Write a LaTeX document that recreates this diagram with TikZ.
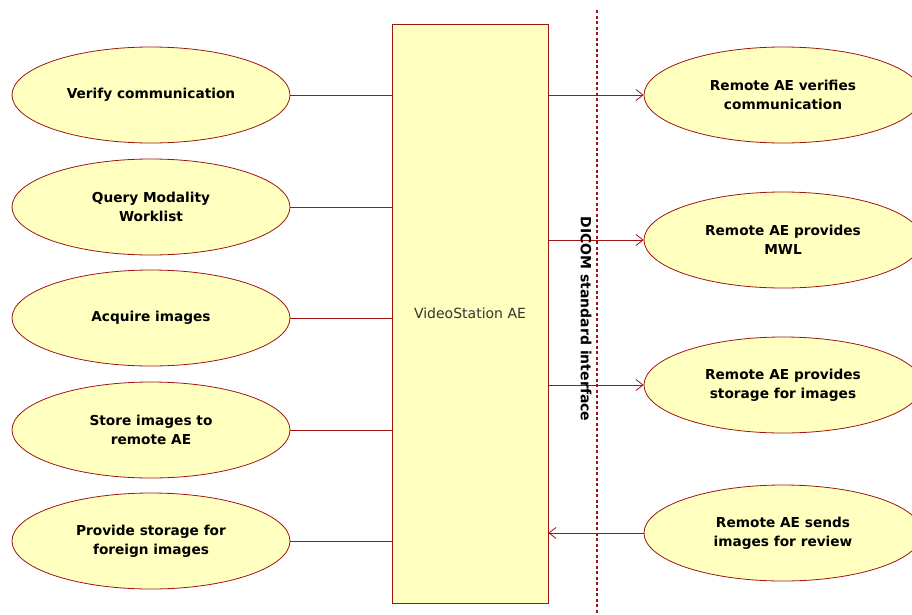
\documentclass[tikz,border=0pt]{standalone}
\usepackage{fontspec}
\setmainfont{DejaVu Sans}
\usetikzlibrary{shapes.geometric,arrows.meta}
\definecolor{caseyellow}{RGB}{255,255,192}
\definecolor{casered}{RGB}{160,20,20}
\begin{document}
\begin{tikzpicture}[x=1pt,y=-1pt,
    usecase/.style={ellipse,draw=casered,fill=caseyellow,line width=0.8pt,
      minimum width=278pt,minimum height=96pt,inner sep=0pt,align=center,
      font=\bfseries\fontsize{13.7}{19}\selectfont},
    link/.style={draw=casered,line width=0.8pt},
    tip/.style={-{Straight Barb[length=7pt,width=11pt]}}]
  \useasboundingbox (0,0) rectangle (912,614);
  \clip (0,0) rectangle (912,614);
  \node[draw=casered,fill=caseyellow,line width=0.8pt,minimum width=156pt,
    minimum height=579pt,inner sep=0pt,font=\fontsize{14}{16}\selectfont,
    text=black!80] (ae) at (470,313.5) {VideoStation AE}; % Kasten
  % linke Seite
  \node[usecase] (verify) at (151,95) {Verify communication};
  \node[usecase] (query) at (151,207) {Query Modality\\Worklist};
  \node[usecase] (acquire) at (151,318) {Acquire images};
  \node[usecase] (store) at (151,430) {Store images to\\remote AE};
  \node[usecase] (provide) at (151,541) {Provide storage for\\foreign images};
  \foreach \n in {verify,query,acquire,store,provide}
    \draw[link] (\n.east) -- (\n.east -| ae.west);
  % rechte Seite
  \node[usecase] (rverify) at (783,95) {Remote AE verifies\\communication};
  \node[usecase] (rmwl) at (783,240) {Remote AE provides\\MWL};
  \node[usecase] (rstore) at (783,385) {Remote AE provides\\storage for images};
  \node[usecase] (rsend) at (783,533) {Remote AE sends\\images for review};
  \foreach \n in {rverify,rmwl,rstore}
    \draw[link,tip] (ae.east |- \n.west) -- (\n.west);
  \draw[link,tip] (rsend.west) -- (rsend.west -| ae.east);
  % Schnittstelle
  \coordinate (top) at (597,10);
  \coordinate (bottom) at (597,614);
  \draw[casered,line width=1.3pt,dash pattern=on 3pt off 2.5pt] (top) -- (bottom);
  \node[rotate=-90,font=\bfseries\fontsize{14}{16}\selectfont] (dicom) at (586,319) {DICOM standard interface};
\end{tikzpicture}
\end{document}
